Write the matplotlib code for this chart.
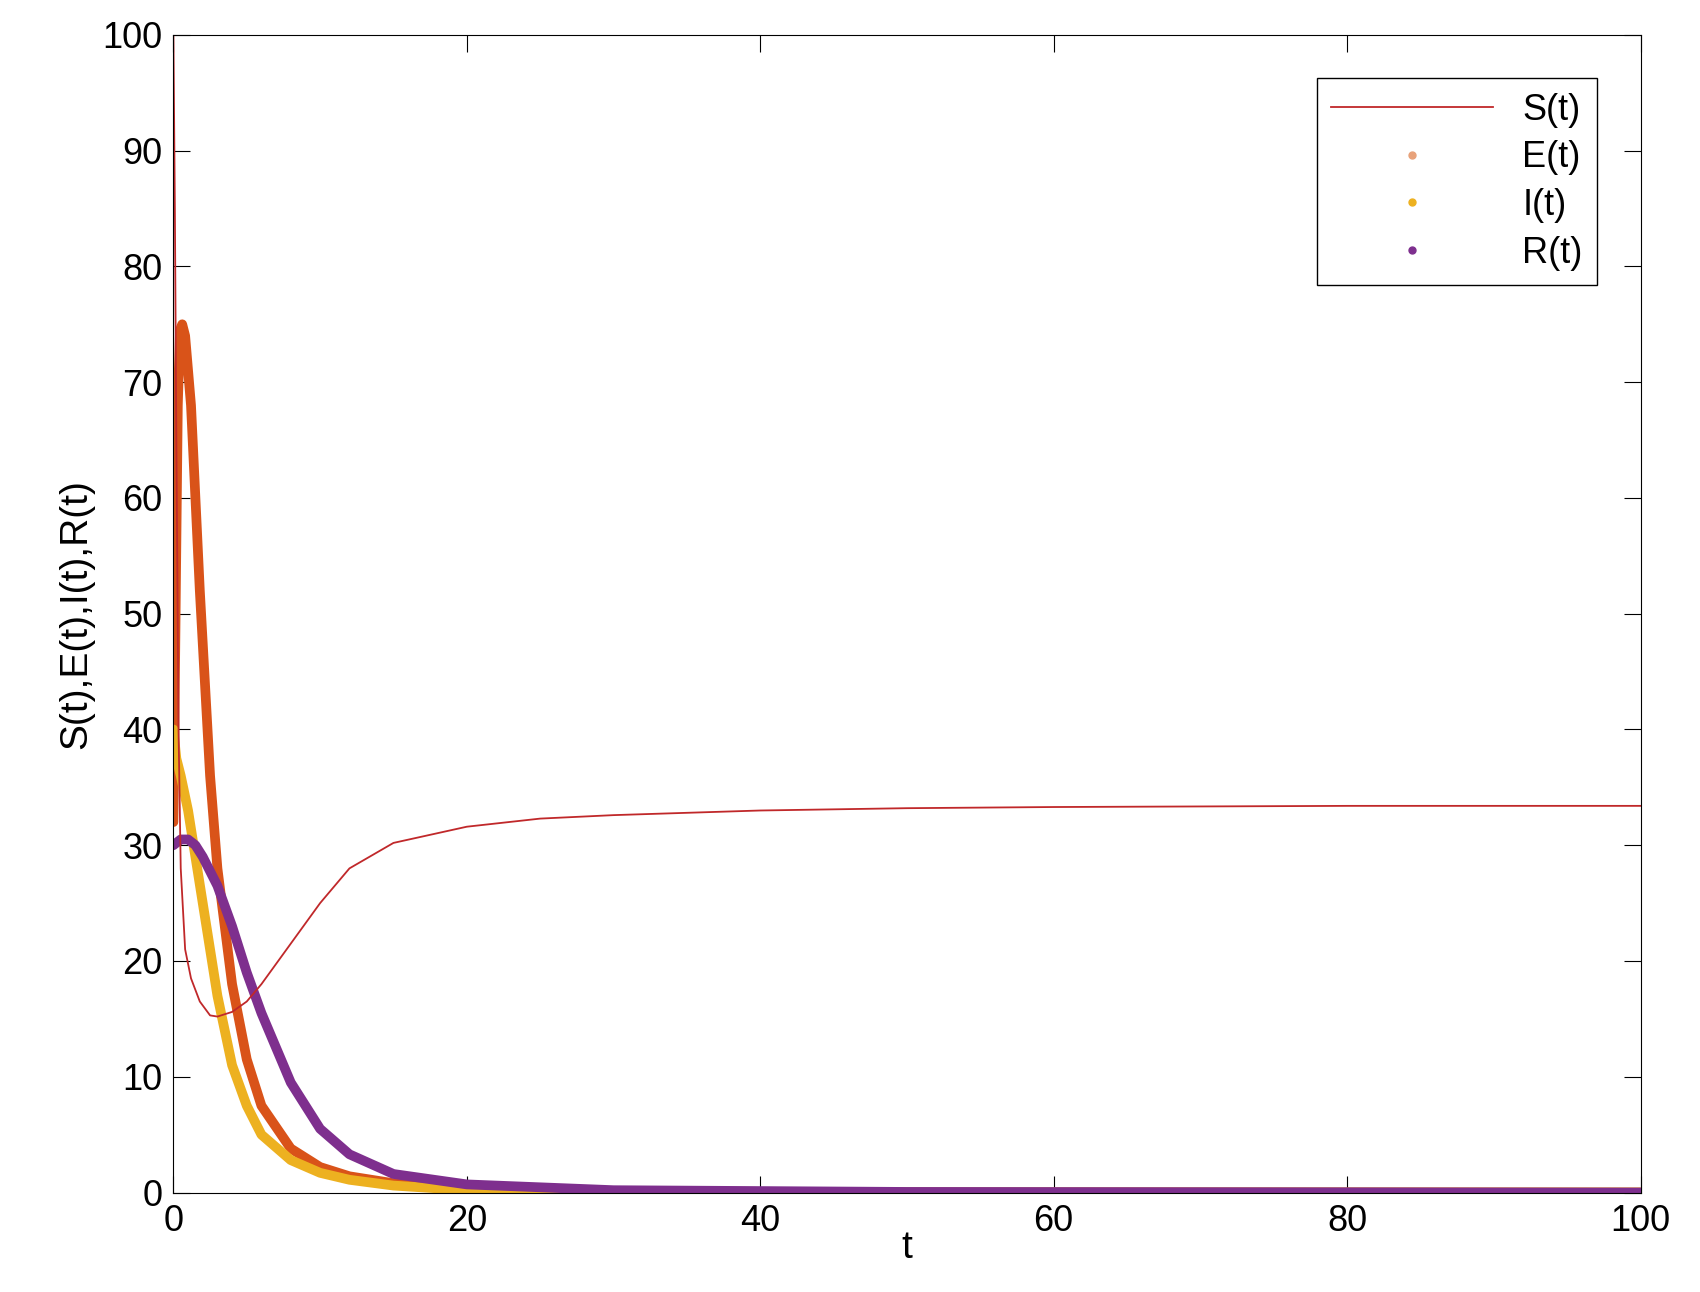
import numpy as np
from matplotlib import pyplot as plt
from matplotlib.lines import Line2D

plt.rcParams['font.family'] = ['Liberation Sans', 'DejaVu Sans']

# 数据
t_s = [0, 0.1, 0.2, 0.35, 0.5, 0.8, 1.2, 1.8, 2.5, 3, 4, 5, 6, 8, 10, 12, 15, 20, 25, 30, 40, 50, 60, 80, 100]
s_val = [100, 85, 65, 40, 28, 21, 18.5, 16.5, 15.3, 15.2, 15.6, 16.5, 18, 21.5, 25, 28, 30.2, 31.6, 32.3, 32.6, 33.0, 33.2, 33.3, 33.4, 33.4]
t_e = [0, 0.15, 0.3, 0.45, 0.6, 0.8, 1.2, 1.8, 2.5, 3, 4, 5, 6, 8, 10, 12, 15, 20, 30, 50, 100]
e_val = [32, 50, 68, 74.5, 75, 74, 68, 52, 36, 28, 18, 11.5, 7.5, 3.8, 2.2, 1.4, 0.8, 0.3, 0.1, 0.02, 0]
t_i = [0, 0.2, 0.5, 1, 1.5, 2, 3, 4, 5, 6, 8, 10, 12, 15, 20, 30, 50, 100]
i_val = [40, 37.5, 36, 33, 29, 25, 17, 11, 7.5, 5, 2.8, 1.7, 1.1, 0.6, 0.2, 0.05, 0, 0]
t_r = [0, 0.5, 1, 1.5, 2, 3, 4, 5, 6, 8, 10, 12, 15, 20, 30, 50, 100]
r_val = [30, 30.5, 30.5, 30, 29, 26.5, 23, 19, 15.5, 9.5, 5.5, 3.3, 1.6, 0.7, 0.2, 0.05, 0]

C_S, C_E, C_I, C_R = '#c0282a', '#d95319', '#edb120', '#7e2f8e'

fig = plt.figure(figsize=(17, 12.92), dpi=100)
ax = fig.add_axes([0.102, 0.077, 0.863, 0.896])

ax.plot(t_e, e_val, color=C_E, lw=7, solid_capstyle='round')
ax.plot(t_i, i_val, color=C_I, lw=7, solid_capstyle='round')
ax.plot(t_r, r_val, color=C_R, lw=7, solid_capstyle='round')
ax.plot(t_s, s_val, color=C_S, lw=1.3)

ax.set_xlim(0, 100)
ax.set_ylim(0, 100)
ax.set_xticks(np.arange(0, 101, 20))
ax.set_yticks(np.arange(0, 101, 10))
ax.tick_params(direction='in', top=True, right=True, labelsize=26, length=12, pad=8)
ax.set_xlabel('t', fontsize=28, labelpad=-6)
ax.set_ylabel('S(t),E(t),I(t),R(t)', fontsize=28, labelpad=6)

handles = [
    Line2D([], [], color=C_S, lw=1.3),
    Line2D([], [], color='#e8a27a', marker='o', ms=5, ls='none'),
    Line2D([], [], color=C_I, marker='o', ms=5, ls='none'),
    Line2D([], [], color=C_R, marker='o', ms=5, ls='none'),
]
ax.legend(handles, ['S(t)', 'E(t)', 'I(t)', 'R(t)'], loc='upper right', fontsize=26,
          fancybox=False, edgecolor='black', framealpha=1, handlelength=4.5,
          markerfirst=True, borderaxespad=1.2, labelspacing=0.35)

fig.savefig('out.png')
